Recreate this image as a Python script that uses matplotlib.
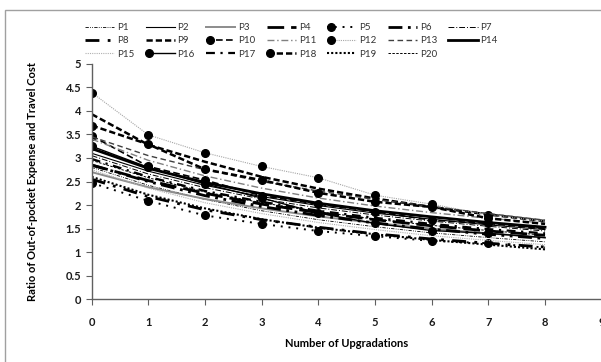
import numpy as np
import matplotlib.pyplot as plt
from matplotlib.patches import Rectangle
from matplotlib.legend_handler import HandlerLine2DCompound

# Data
upgrades = [0, 1, 2, 3, 4, 5, 6, 7, 8]
p1 = [2.80, 2.42, 2.12, 1.88, 1.69, 1.54, 1.41, 1.31, 1.22]
p2 = [3.10, 2.72, 2.42, 2.18, 1.99, 1.83, 1.70, 1.58, 1.48]
p3 = [2.70, 2.38, 2.13, 1.93, 1.76, 1.62, 1.50, 1.40, 1.31]
p4 = [2.85, 2.52, 2.25, 2.02, 1.84, 1.69, 1.56, 1.45, 1.36]
p5 = [2.47, 2.09, 1.78, 1.60, 1.45, 1.34, 1.24, 1.19, 1.10]
p6 = [2.85, 2.50, 2.20, 1.97, 1.78, 1.62, 1.49, 1.38, 1.29]
p7 = [3.05, 2.66, 2.37, 2.13, 1.94, 1.79, 1.66, 1.55, 1.45]
p8 = [2.55, 2.18, 1.90, 1.69, 1.53, 1.39, 1.28, 1.19, 1.11]
p9 = [3.93, 3.28, 2.92, 2.60, 2.35, 2.14, 1.96, 1.80, 1.66]
p10 = [3.47, 2.82, 2.53, 2.20, 2.02, 1.86, 1.68, 1.61, 1.50]
p11 = [3.40, 2.95, 2.62, 2.36, 2.15, 1.98, 1.84, 1.72, 1.62]
p12 = [4.39, 3.49, 3.11, 2.82, 2.58, 2.21, 2.02, 1.79, 1.66]
p13 = [3.45, 3.05, 2.75, 2.50, 2.30, 2.12, 1.97, 1.82, 1.68]
p14 = [3.20, 2.78, 2.48, 2.24, 2.04, 1.88, 1.75, 1.63, 1.53]
p15 = [2.75, 2.36, 2.05, 1.82, 1.63, 1.48, 1.35, 1.25, 1.16]
p16 = [3.25, 2.80, 2.45, 2.15, 1.83, 1.61, 1.46, 1.40, 1.31]
p17 = [2.98, 2.60, 2.30, 2.07, 1.88, 1.73, 1.60, 1.49, 1.40]
p18 = [3.69, 3.29, 2.76, 2.53, 2.26, 2.07, 1.96, 1.72, 1.60]
p19 = [2.60, 2.22, 1.93, 1.70, 1.52, 1.38, 1.26, 1.16, 1.06]
p20 = [2.95, 2.58, 2.28, 2.05, 1.86, 1.70, 1.57, 1.46, 1.36]

series = [p1, p2, p3, p4, p5, p6, p7, p8, p9, p10,
          p11, p12, p13, p14, p15, p16, p17, p18, p19, p20]
names = ["P" + str(i + 1) for i in range(20)]

# (color, linewidth, dashes, marker)
styles = [
    ("black", 0.6, (4, 1.5, 1, 1.5, 1, 1.5), None),   # P1
    ("black", 0.8, None, None),                         # P2
    ("#8c8c8c", 1.4, None, None),                       # P3
    ("black", 2.0, (6, 2.5), None),                     # P4
    ("black", 1.4, (1, 3), "o"),                        # P5
    ("black", 2.0, (5, 2, 1, 2, 1, 2), None),           # P6
    ("black", 0.7, (6, 2, 1, 2), None),                 # P7
    ("black", 2.0, (5, 3, 1, 3), None),                 # P8
    ("black", 1.8, (2.5, 1.2), None),                   # P9
    ("black", 1.2, (4, 2), "o"),                        # P10
    ("#808080", 1.0, (5, 2, 1, 2), None),               # P11
    ("#a6a6a6", 0.8, (1, 1), "o"),                      # P12
    ("#404040", 1.0, (4, 2.5), None),                   # P13
    ("black", 2.0, None, None),                         # P14
    ("#b0b0b0", 0.8, (1, 1), None),                     # P15
    ("black", 1.0, None, "o"),                          # P16
    ("black", 1.6, (4, 2.5, 1, 2.5), None),             # P17
    ("black", 1.8, (2.5, 1.2), "o"),                    # P18
    ("black", 1.5, (1, 1), None),                       # P19
    ("black", 0.7, (2.5, 1.5), None),                   # P20
]


class MarkerLeft(HandlerLine2DCompound):
    # put the legend marker at the left end of the sample line, like Excel
    def get_xdata(self, legend, xdescent, ydescent, width, height, fontsize):
        xdata, _ = super().get_xdata(legend, xdescent, ydescent, width, height, fontsize)
        return xdata, np.array([xdata[0] + 2.5])


plt.rcParams['font.family'] = ['Lato', 'DejaVu Sans']

fig = plt.figure(figsize=(6.01, 3.62), dpi=100)
fig.patches.append(Rectangle((5 / 601, -0.05), 1.1, 1 - 10 / 362 + 0.05,
                             transform=fig.transFigure, fill=False,
                             edgecolor="#a0a0a0", lw=1.0))
ax = fig.add_axes([91.7 / 601, 62.7 / 362, 510 / 601, 235.5 / 362])

handles = []
for vals, name, (col, lw, dash, mk) in zip(series, names, styles):
    kw = dict(color=col, lw=lw, label=name)
    if dash is not None:
        kw["dashes"] = dash
    if mk is not None:
        kw.update(marker=mk, markersize=5.5, markevery=list(range(8)),
                  markerfacecolor="black", markeredgecolor="black")
    line, = ax.plot(upgrades, vals, **kw)
    handles.append(line)

ax.set_xlim(0, 9)
ax.set_ylim(0, 5)
ax.set_xticks(np.arange(0, 10, 1))
ax.set_yticks(np.arange(0, 5.01, 0.5))
ax.set_yticklabels(["0", "0.5", "1", "1.5", "2", "2.5", "3", "3.5", "4", "4.5", "5"])
for s in ["top", "right"]:
    ax.spines[s].set_visible(False)
for s in ["left", "bottom"]:
    ax.spines[s].set_color("#606060")
    ax.spines[s].set_linewidth(1.0)
ax.tick_params(direction="out", length=4, width=0.8, color="#606060",
               labelsize=8, labelcolor="#1a1a1a")
ax.tick_params(axis="x", pad=9)
for lab in ax.get_xticklabels() + ax.get_yticklabels():
    lab.set_fontweight("bold")

ax.set_xlabel("Number of Upgradations", fontsize=8, fontweight="bold", labelpad=7)
ax.set_ylabel("Ratio of Out-of-pocket Expense and Travel Cost", fontsize=8,
              fontweight="bold", labelpad=20)

# reorder so the legend fills row by row (7 columns)
cols = [[0, 7, 14], [1, 8, 15], [2, 9, 16], [3, 10, 17], [4, 11, 18],
        [5, 12, 19], [6, 13]]
order = [i for c in cols for i in c]
leg = fig.legend([handles[i] for i in order], [names[i] for i in order],
                 loc="upper left", bbox_to_anchor=(85 / 601, 1 - 23 / 362),
                 ncol=7, frameon=False, fontsize=7, handlelength=3.0,
                 handletextpad=0.3, columnspacing=1.15, labelspacing=0.45,
                 borderpad=0, borderaxespad=0,
                 handler_map={h: MarkerLeft(numpoints=1) for h in handles})
for t in leg.get_texts():
    t.set_color("#333333")

fig.savefig("out.png", dpi=100)
